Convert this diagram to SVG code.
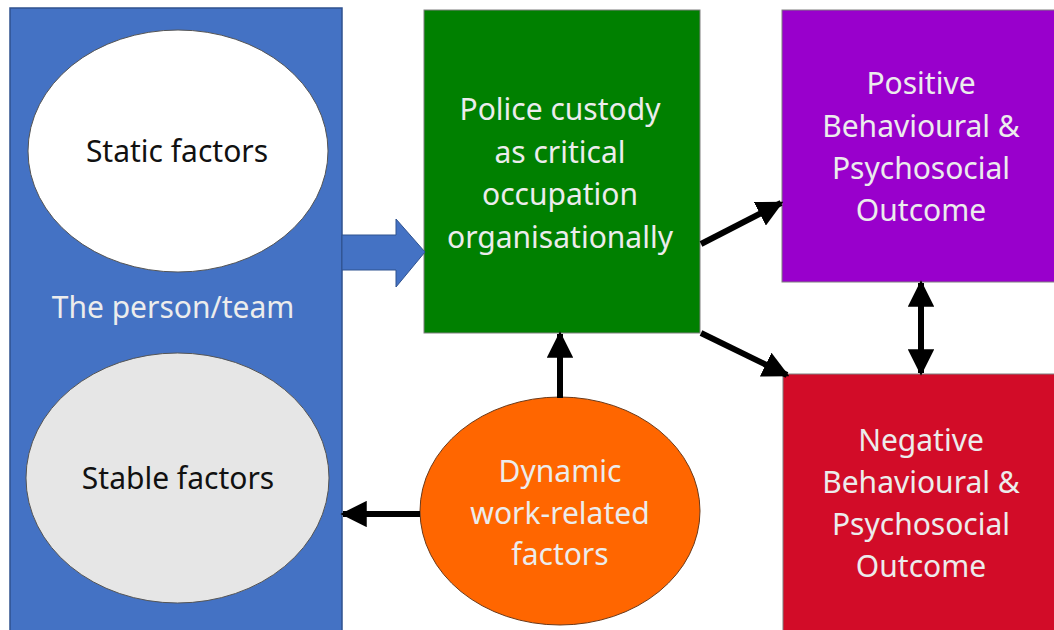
<svg xmlns="http://www.w3.org/2000/svg" width="1054" height="630" viewBox="0 0 1054 630">
  <defs>
    <marker id="head" viewBox="0 0 10 10" refX="9" refY="5" markerWidth="4.4" markerHeight="4.4" orient="auto-start-reverse" markerUnits="strokeWidth">
      <path d="M0,0 L10,5 L0,10 Z" fill="#000"/>
    </marker>
    <style>
      .lbl { font-family: "Noto Sans", "Open Sans", sans-serif; font-size: 30px; text-anchor: middle; }
      .dark { fill: #111; }
      .light { fill: #ECECEC; }
      .edge { stroke: #000; stroke-width: 6; fill: none; marker-end: url(#head); }
      .box { stroke: #7f7f7f; stroke-width: 1; }
    </style>
  </defs>
  <rect width="1054" height="630" fill="#fff"/>

  <g id="person-team">
    <rect x="10" y="8" width="332" height="630" fill="#4472C4" stroke="#2F528F" stroke-width="1.5"/>
    <text class="lbl light" x="173" y="318">The person/team</text>
  </g>

  <g id="static-factors">
    <ellipse cx="178" cy="151" rx="150" ry="121" fill="#fff" stroke="#555" stroke-width="1"/>
    <text class="lbl dark" x="177" y="162">Static factors</text>
  </g>

  <g id="stable-factors">
    <ellipse cx="177.5" cy="478" rx="151.5" ry="125" fill="#E6E6E6" stroke="#555" stroke-width="1"/>
    <text class="lbl dark" x="178" y="489">Stable factors</text>
  </g>

  <g id="police-custody">
    <rect class="box" x="424" y="10" width="276" height="323" fill="#008000"/>
    <text class="lbl light" x="560" y="120">Police custody</text>
    <text class="lbl light" x="560" y="163">as critical</text>
    <text class="lbl light" x="560" y="205">occupation</text>
    <text class="lbl light" x="560" y="248">organisationally</text>
  </g>

  <g id="positive-outcome">
    <rect class="box" x="782" y="10" width="280" height="272" fill="#9900CC"/>
    <text class="lbl light" x="921" y="94">Positive</text>
    <text class="lbl light" x="921" y="137">Behavioural &amp;</text>
    <text class="lbl light" x="921" y="179">Psychosocial</text>
    <text class="lbl light" x="921" y="221">Outcome</text>
  </g>

  <g id="negative-outcome">
    <rect class="box" x="783" y="374" width="280" height="260" fill="#D20C28"/>
    <text class="lbl light" x="921" y="451">Negative</text>
    <text class="lbl light" x="921" y="493">Behavioural &amp;</text>
    <text class="lbl light" x="921" y="535">Psychosocial</text>
    <text class="lbl light" x="921" y="577">Outcome</text>
  </g>

  <g id="dynamic-factors">
    <ellipse cx="560" cy="511" rx="140" ry="114" fill="#FF6600" stroke="#6b3a1a" stroke-width="1"/>
    <text class="lbl light" x="560" y="482">Dynamic</text>
    <text class="lbl light" x="560" y="524">work-related</text>
    <text class="lbl light" x="560" y="565">factors</text>
  </g>

  <g id="connectors">
    <!-- block arrow from the person/team into the occupation box -->
    <path d="M342,235 L396,235 L396,219 L425,252 L396,287 L396,270 L342,270 Z" fill="#4472C4" stroke="#2F528F" stroke-width="1"/>
    <line class="edge" x1="420" y1="514" x2="343" y2="514"/>
    <line class="edge" x1="560" y1="398" x2="560" y2="334"/>
    <line class="edge" x1="701" y1="244" x2="781" y2="203"/>
    <line class="edge" x1="701" y1="333" x2="787" y2="375"/>
    <line class="edge" x1="921" y1="283" x2="921" y2="373" marker-start="url(#head)"/>
  </g>
</svg>
